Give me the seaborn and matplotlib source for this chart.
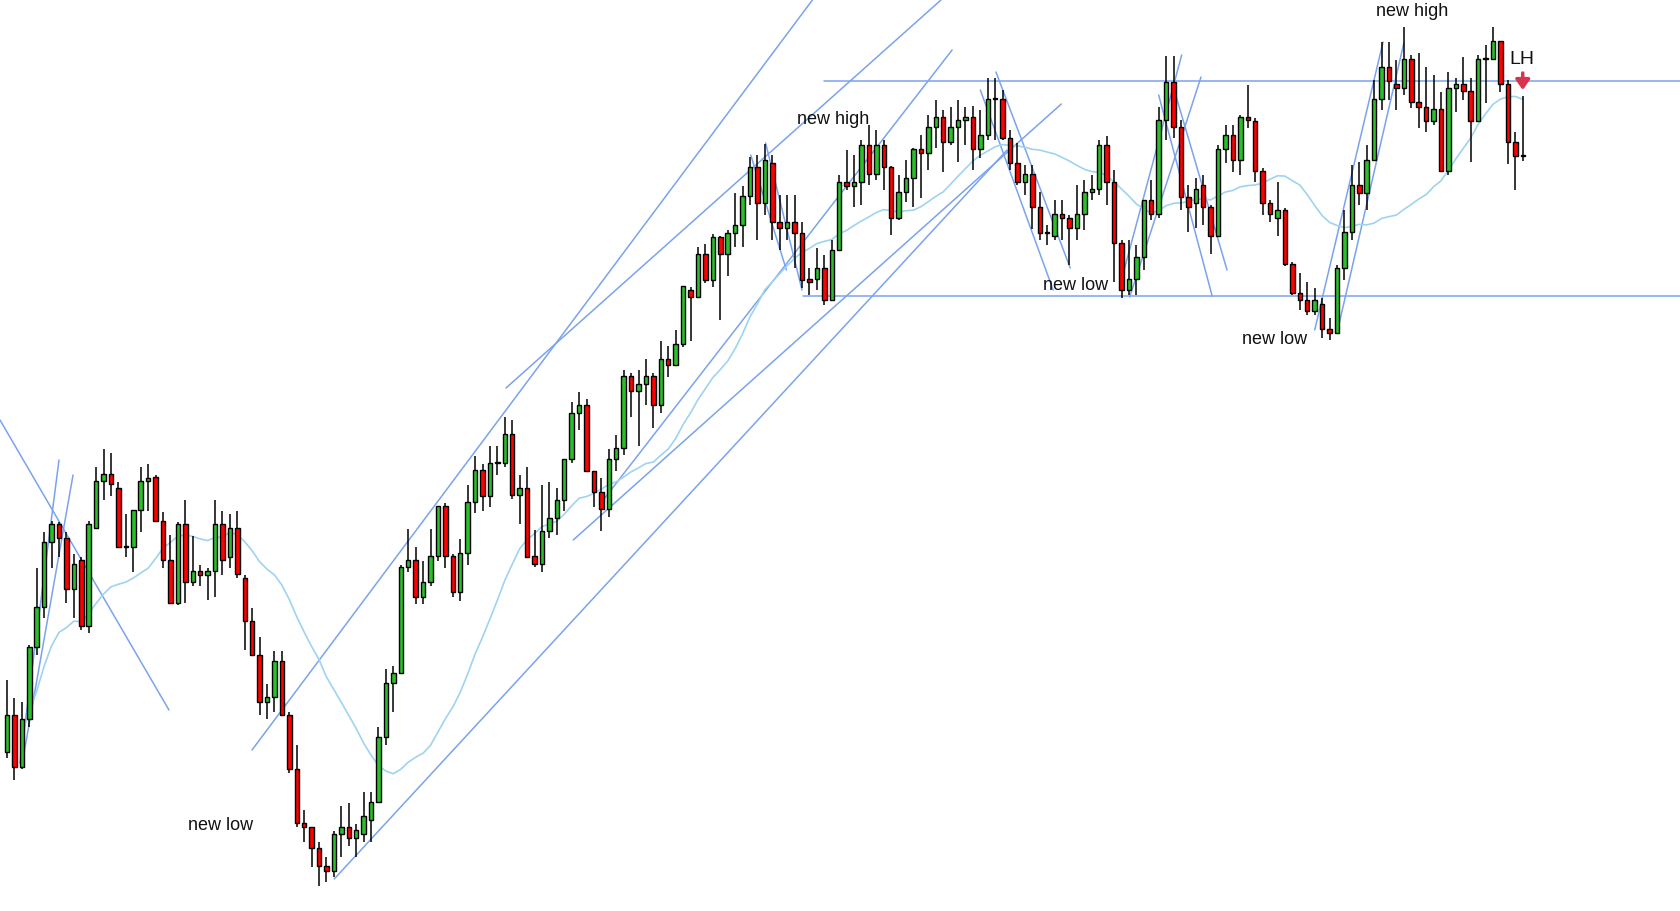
import numpy as np
import pandas as pd
import matplotlib
matplotlib.use("Agg")
import matplotlib.pyplot as plt
import seaborn as sns

# Candle readings (screen levels, larger = lower); price = 1000 - level
opens = [752,715,767,719,647,607,542,524,538,589,560,626,528,481,474,488,547,547,510,481,
         477,521,560,603,524,582,571,575,571,524,557,528,578,621,655,702,697,661,715,769,
         823,827,848,866,871,834,827,838,834,820,802,737,683,673,567,560,597,582,556,506,
         556,592,553,502,470,496,463,463,434,495,488,556,564,531,518,500,459,413,405,471,
         492,509,459,448,376,391,384,376,405,359,365,344,290,297,254,280,237,254,233,225,
         196,167,203,163,222,228,222,233,279,279,268,300,250,182,186,182,145,174,145,167,
         218,192,178,149,153,127,117,142,127,120,117,149,135,99,99,138,163,182,174,207,
         233,236,214,218,228,214,192,189,145,182,243,290,279,257,200,214,120,82,127,197,
         203,185,207,236,149,135,160,117,121,171,203,218,210,264,293,300,311,304,329,333,
         268,232,185,193,160,99,67,84,88,59,102,107,121,109,171,88,84,91,121,59,
         59,41,84,142,156]
closes = [715,767,719,647,607,542,524,538,589,564,626,524,481,474,484,547,547,510,481,478,
          521,560,603,524,582,571,575,571,524,560,528,574,621,655,702,697,661,715,769,823,
          827,848,866,871,834,827,838,830,816,802,737,683,673,567,560,597,582,556,506,556,
          592,553,502,470,496,463,463,434,495,488,557,564,531,518,500,459,413,405,471,492,
          509,459,448,376,391,384,376,405,359,365,344,286,297,254,280,237,254,233,225,196,
          167,203,160,222,228,222,233,280,282,268,300,250,182,186,182,145,174,145,167,218,
          192,178,149,153,127,117,142,127,120,117,149,135,99,99,138,163,182,174,207,233,
          233,214,218,228,214,192,189,145,182,243,290,279,257,200,214,120,82,127,197,207,
          189,207,236,149,135,160,117,120,171,203,214,210,264,293,300,311,300,329,333,268,
          232,185,193,160,99,67,81,88,59,102,107,121,109,171,88,84,91,121,59,59,
          41,84,142,156,156]
highs = [680,698,702,645,568,532,521,522,532,554,557,521,467,449,453,482,514,510,467,464,
         475,512,535,522,500,536,565,568,500,511,514,511,575,608,637,684,651,651,712,745,
         810,827,842,857,831,806,803,824,792,792,727,669,666,565,529,547,561,529,506,503,
         554,539,485,456,464,446,446,417,420,475,467,530,485,482,488,459,402,392,399,471,
         478,449,435,370,373,370,359,373,341,346,330,286,287,247,244,234,236,230,193,186,
         157,155,144,155,195,195,195,222,268,248,255,240,175,150,155,140,125,130,140,166,
         175,160,148,135,115,100,110,107,100,107,106,110,78,78,90,130,143,165,165,192,
         225,200,200,215,185,180,175,140,136,170,240,240,245,200,180,107,56,56,120,185,
         178,175,205,145,125,125,115,85,118,168,200,182,208,262,273,282,288,298,318,265,
         210,165,162,145,80,42,42,60,27,55,53,67,75,92,72,78,57,78,55,45,
         27,41,80,132,96]
lows = [758,780,769,727,655,618,568,557,603,618,630,633,528,500,496,547,557,572,532,511,
        521,568,603,605,603,586,586,600,597,575,568,578,650,655,715,719,712,715,773,827,
        842,867,886,882,877,857,846,857,842,842,802,745,712,673,572,604,604,586,561,568,
        597,601,565,513,511,507,475,467,499,524,557,567,572,538,535,511,463,430,471,507,
        531,517,471,455,417,446,405,428,413,377,365,347,341,297,283,287,320,276,247,247,
        205,240,215,240,250,240,268,288,295,290,305,300,250,190,207,205,185,180,190,235,
        220,202,207,198,170,148,172,145,162,145,170,158,140,140,140,170,185,195,229,240,
        245,240,240,265,240,230,200,195,205,282,298,295,295,270,220,218,140,138,210,232,
        228,225,254,236,163,172,175,128,182,215,222,236,266,295,310,315,315,338,340,333,
        280,240,205,210,160,110,100,110,95,108,128,132,125,172,175,112,100,162,122,103,
        60,92,164,190,161]

# Trend lines: (start bar, end bar, start price, end price)
trend_x0 = [-0.94, 1.75, 2.01, 32.98, 67.16, 44.04, 79.83, 76.21, 100.1, 102.1, 131.0, 133.1, 155.0, 156.9, 150.1, 151.1, 176.0, 179.0]
trend_x1 = [21.8, 7.0, 8.89, 108.4, 125.7, 134.6, 127.2, 141.9, 104.9, 107.0, 140.8, 143.1, 162.2, 164.2, 158.1, 160.7, 185.2, 188.0]
trend_y0 = [580, 237, 235, 250, 612, 121, 496, 460, 845, 857, 910, 928, 905, 915, 723, 703, 670, 667]
trend_y1 = [290, 540, 525, 1000, 1000, 850, 950, 896, 730, 710, 710, 732, 704, 730, 945, 923, 958, 957]
hline_start = [110.0, 107.1]
hline_price = [919, 704]

labels = ["new high", "new low", "new low", "new low", "new high", "LH"]
label_x = [111.2, 28.7, 143.8, 170.6, 189.1, 203.9]
label_y = [881, 175, 714, 660, 988, 940]

sns.set_style("white")
plt.rcParams['font.family'] = ['Liberation Sans', 'DejaVu Sans']

df = pd.DataFrame({"o": 1000 - np.array(opens), "c": 1000 - np.array(closes),
                   "h": 1000 - np.array(highs), "l": 1000 - np.array(lows)})
df["i"] = np.arange(len(df))
df["ma"] = df["c"].rolling(20, min_periods=1).mean()

fig = plt.figure(figsize=(16.81, 9.11), dpi=100)
ax = fig.add_axes([0, 0, 1, 1])
ax.set_xlim(-0.94, 225.3)
ax.set_ylim(89, 1000)

line_col = "#7aa3ee"
for a, b, p, q in zip(trend_x0, trend_x1, trend_y0, trend_y1):
    ax.plot([a, b], [p, q], color=line_col, lw=1.1, zorder=1)
for s, p in zip(hline_start, hline_price):
    ax.plot([s, 225.3], [p, p], color=line_col, lw=1.1, zorder=1)

ma = df.iloc[2:]
sns.lineplot(data=ma, x="i", y="ma", ax=ax, color="#9fd3f0", lw=1.2, zorder=2)

up = df["c"] >= df["o"]
ax.vlines(df["i"], df["l"], df["h"], color="black", lw=1.1, zorder=3)
bottom = np.minimum(df["o"], df["c"])
height = np.maximum(np.abs(df["c"] - df["o"]), 1.2)
colors = np.where(up, "#2cbf2c", "#ff0000")
ax.bar(df["i"], height, bottom=bottom, width=0.6, color=colors, edgecolor="black", lw=1.0, zorder=4)

for t, x, y in zip(labels, label_x, label_y):
    ax.text(x, y, t, ha="center", va="center", fontsize=13 if t != "LH" else 14, color="#111111")
ax.annotate("", xy=(204, 910), xytext=(204, 927),
            arrowprops=dict(arrowstyle="-|>,head_width=0.35,head_length=0.5",
                            color="#d8344f", lw=2.5, shrinkA=0, shrinkB=0, mutation_scale=12))

ax.set_axis_off()
fig.savefig("out.png", dpi=100)
